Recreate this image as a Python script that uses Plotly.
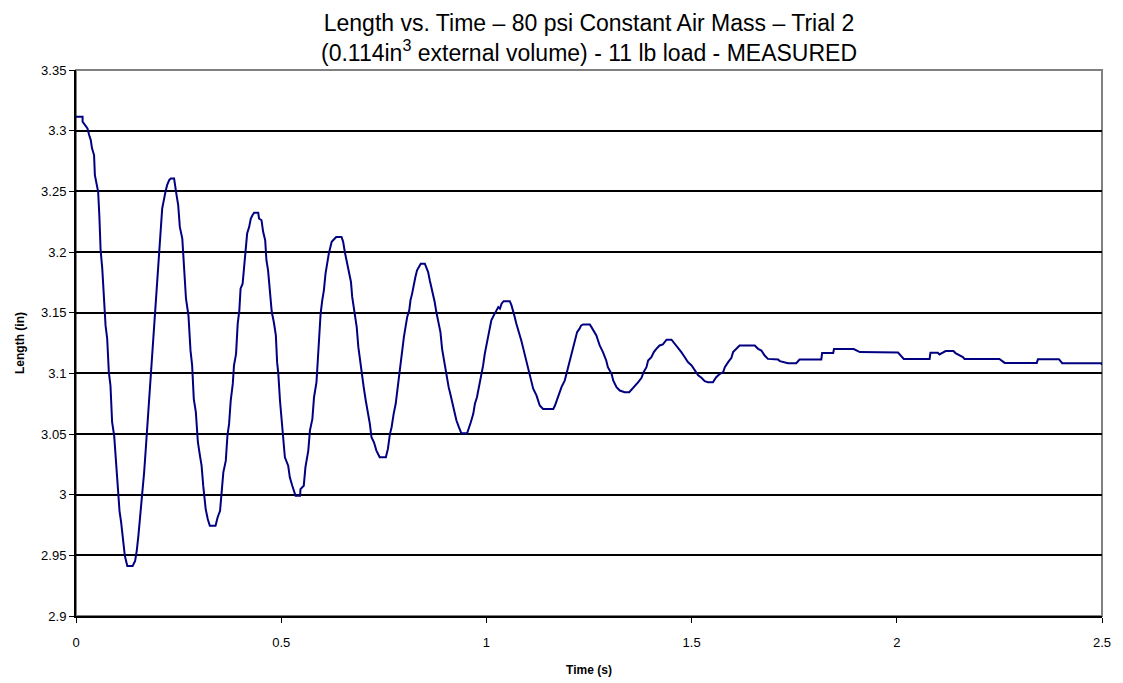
import plotly.graph_objects as go

# Time (s) and Length (in) readings
time_s = [
    0.000, 0.016, 0.016, 0.022, 0.028, 0.032, 0.036, 0.039, 0.044, 0.046, 0.050, 0.054, 0.057, 0.060,
    0.064, 0.068, 0.072, 0.076, 0.080, 0.084, 0.088, 0.093, 0.097, 0.101, 0.106, 0.110, 0.114, 0.119,
    0.125, 0.138, 0.144, 0.148, 0.152, 0.156, 0.162, 0.166, 0.170, 0.175, 0.178, 0.182, 0.186, 0.190,
    0.194, 0.198, 0.202, 0.206, 0.210, 0.218, 0.222, 0.227, 0.231, 0.239,
    0.241, 0.245, 0.249, 0.253, 0.259, 0.263, 0.268, 0.274, 0.279, 0.283, 0.287, 0.292, 0.297, 0.302,
    0.306, 0.310, 0.316, 0.321, 0.326, 0.340, 0.345, 0.351, 0.355, 0.359, 0.365, 0.369, 0.373, 0.377,
    0.382, 0.385, 0.390, 0.394, 0.398, 0.401, 0.406, 0.409, 0.413, 0.417, 0.422, 0.426, 0.430, 0.434,
    0.444, 0.446, 0.452, 0.456, 0.461, 0.464, 0.468, 0.473, 0.477, 0.482, 0.487, 0.490,
    0.493, 0.497, 0.503, 0.509, 0.517, 0.521, 0.527, 0.533, 0.535, 0.546, 0.547, 0.555, 0.559, 0.566,
    0.570, 0.576, 0.580, 0.586,
    0.592, 0.596, 0.600, 0.604, 0.608, 0.612, 0.616, 0.623, 0.628, 0.634, 0.647, 0.651, 0.655, 0.659,
    0.665, 0.670, 0.673, 0.677, 0.684, 0.688, 0.692, 0.696, 0.701, 0.706, 0.712, 0.716, 0.720, 0.726,
    0.732, 0.740, 0.755, 0.760, 0.765,
    0.769, 0.774, 0.779, 0.783, 0.787, 0.791, 0.795, 0.799, 0.803, 0.807, 0.812, 0.815, 0.819, 0.823,
    0.827, 0.831, 0.836, 0.840, 0.850, 0.854, 0.858, 0.862, 0.866, 0.870, 0.874, 0.878, 0.884, 0.888,
    0.892, 0.896, 0.900, 0.904, 0.908, 0.912, 0.917, 0.921, 0.927, 0.933, 0.939, 0.953, 0.957, 0.962,
    0.968, 0.972, 0.977, 0.982, 0.986, 0.992, 0.996, 1.000, 1.004, 1.008, 1.012, 1.018, 1.023, 1.029,
    1.033, 1.037, 1.042, 1.057, 1.061, 1.065, 1.069, 1.073, 1.077, 1.081, 1.085, 1.089, 1.093, 1.098,
    1.102, 1.106, 1.110, 1.114, 1.122, 1.126, 1.130, 1.138, 1.163, 1.167, 1.171, 1.177, 1.183, 1.191,
    1.195, 1.199, 1.205, 1.210, 1.215, 1.221, 1.227, 1.231, 1.236, 1.252, 1.256, 1.260, 1.268, 1.272,
    1.276, 1.284, 1.292, 1.296, 1.305, 1.309, 1.317, 1.325, 1.337, 1.348, 1.353, 1.361, 1.370, 1.378,
    1.383, 1.390, 1.394, 1.402, 1.408, 1.414, 1.422, 1.430, 1.439, 1.451, 1.459, 1.467, 1.475, 1.483,
    1.491, 1.500, 1.508, 1.516, 1.524, 1.532, 1.540, 1.552,
    1.560, 1.569, 1.577, 1.581, 1.589, 1.597, 1.601, 1.609, 1.617, 1.654, 1.662, 1.670, 1.678, 1.686,
    1.711, 1.715, 1.735, 1.755, 1.763, 1.816, 1.818, 1.845, 1.847, 1.895, 1.910, 2.003, 2.017, 2.080,
    2.082, 2.100, 2.104, 2.119, 2.138, 2.143, 2.161, 2.165, 2.250, 2.263, 2.341, 2.344, 2.395, 2.403,
    2.498, 2.500,
]
length_in = [
    3.3115, 3.3115, 3.3074, 3.3047, 3.3019, 3.2964, 3.2923, 3.2854, 3.2799, 3.2634, 3.2551, 3.2496, 3.2290, 3.2014,
    3.1863, 3.1560, 3.1395, 3.1285, 3.1010, 3.0900, 3.0597, 3.0487, 3.0267, 3.0101, 2.9867, 2.9771, 2.9620, 2.9496,
    2.9413, 2.9413, 2.9454, 2.9537, 2.9661, 2.9799, 3.0046, 3.0184, 3.0376, 3.0624, 3.0817, 3.1037, 3.1202, 3.1423,
    3.1643, 3.1808, 3.2001, 3.2166, 3.2358, 3.2496, 3.2551, 3.2592, 3.2606, 3.2606,
    3.2551, 3.2469, 3.2386, 3.2207, 3.2111, 3.1877, 3.1615, 3.1478, 3.1189, 3.1065, 3.0790, 3.0680, 3.0432, 3.0322,
    3.0239, 3.0074, 2.9881, 2.9799, 2.9744, 2.9744, 2.9812, 2.9867, 3.0019, 3.0184, 3.0280, 3.0487, 3.0583, 3.0776,
    3.0913, 3.1065, 3.1161, 3.1409, 3.1519, 3.1698, 3.1739, 3.1849, 3.2015, 3.2152, 3.2207, 3.2276, 3.2303, 3.2323,
    3.2323, 3.2276, 3.2262, 3.2166, 3.2097, 3.1932, 3.1849, 3.1643, 3.1505, 3.1423, 3.1313, 3.1092,
    3.0996, 3.0776, 3.0501, 3.0308, 3.0239, 3.0143, 3.0074, 3.0005, 2.9991, 2.9991, 3.0046, 3.0074, 3.0225, 3.0363,
    3.0528, 3.0625, 3.0803, 3.0927,
    3.1340, 3.1491, 3.1602, 3.1684, 3.1822, 3.1918, 3.1987, 3.2084, 3.2103, 3.2124, 3.2124, 3.2084, 3.2000, 3.1932,
    3.1835, 3.1753, 3.1630, 3.1547, 3.1381, 3.1216, 3.1106, 3.0996, 3.0886, 3.0776, 3.0666, 3.0583, 3.0473, 3.0432,
    3.0363, 3.0308, 3.0308, 3.0377, 3.0501,
    3.0556, 3.0666, 3.0749, 3.0859, 3.0983, 3.1079, 3.1216, 3.1301, 3.1383, 3.1464, 3.1519, 3.1602, 3.1657, 3.1739,
    3.1794, 3.1849, 3.1882, 3.1904, 3.1904, 3.1876, 3.1835, 3.1767, 3.1712, 3.1657, 3.1588, 3.1505, 3.1409, 3.1340,
    3.1202, 3.1120, 3.1065, 3.0983, 3.0886, 3.0831, 3.0749, 3.0694, 3.0611, 3.0556, 3.0506, 3.0506, 3.0556, 3.0597,
    3.0666, 3.0749, 3.0803, 3.0886, 3.0983, 3.1065, 3.1161, 3.1230, 3.1312, 3.1383, 3.1436, 3.1478, 3.1513, 3.1546,
    3.1533, 3.1574, 3.1595, 3.1595, 3.1562, 3.1519, 3.1464, 3.1409, 3.1368, 3.1326, 3.1271, 3.1216, 3.1161, 3.1093,
    3.1038, 3.0983, 3.0942, 3.0873, 3.0818, 3.0776, 3.0735, 3.0707, 3.0707, 3.0735, 3.0776, 3.0818, 3.0886, 3.0942,
    3.0996, 3.1065, 3.1134, 3.1189, 3.1271, 3.1340, 3.1368, 3.1395, 3.1403, 3.1403, 3.1381, 3.1359, 3.1312, 3.1271,
    3.1230, 3.1175, 3.1106, 3.1051, 3.0996, 3.0942, 3.0886, 3.0858, 3.0844, 3.0844, 3.0863, 3.0886, 3.0927, 3.0963,
    3.1009, 3.1051, 3.1106, 3.1134, 3.1175, 3.1202, 3.1230, 3.1239, 3.1277, 3.1277, 3.1244, 3.1211, 3.1175, 3.1134,
    3.1093, 3.1065, 3.1023, 3.0983, 3.0963, 3.0935, 3.0927, 3.0927,
    3.0968, 3.0996, 3.1010, 3.1051, 3.1092, 3.1128, 3.1175, 3.1202, 3.1229, 3.1229, 3.1202, 3.1188, 3.1147, 3.1119,
    3.1114, 3.1100, 3.1084, 3.1084, 3.1114, 3.1114, 3.1167, 3.1167, 3.1200, 3.1200, 3.1175, 3.1172, 3.1119, 3.1119,
    3.1170, 3.1170, 3.1156, 3.1184, 3.1184, 3.1167, 3.1134, 3.1119, 3.1119, 3.1086, 3.1086, 3.1117, 3.1117, 3.1084,
    3.1084, 3.1070,
]

y_ticks = [2.9, 2.95, 3.0, 3.05, 3.1, 3.15, 3.2, 3.25, 3.3, 3.35]
y_tick_labels = ["2.9", "2.95", "3", "3.05", "3.1", "3.15", "3.2", "3.25", "3.3", "3.35"]
x_ticks = [0, 0.5, 1, 1.5, 2, 2.5]
x_tick_labels = ["0", "0.5", "1", "1.5", "2", "2.5"]

FONT = "Liberation Sans, Arial, sans-serif"

fig = go.Figure()
fig.add_trace(go.Scatter(
    x=time_s, y=length_in, mode="lines",
    line=dict(color="#000080", width=2),
    showlegend=False, hoverinfo="x+y",
))

fig.update_layout(
    width=1123, height=683,
    margin=dict(l=76, r=21, t=70, b=67),
    paper_bgcolor="white", plot_bgcolor="white",
    font=dict(family=FONT, color="black"),
    title=dict(
        text="Length vs. Time \u2013 80 psi Constant Air Mass \u2013 Trial 2<br>(0.114in<sup>3</sup> external volume) - 11 lb load - MEASURED",
        x=(76 + 1102) / 2 / 1123, xanchor="center",
        yref="container", y=1 - 31 / 683, yanchor="middle",
        font=dict(family=FONT, size=23, color="black"),
    ),
    shapes=[dict(type="rect", xref="paper", yref="paper", x0=0, x1=1, y0=0, y1=1,
                 line=dict(color="#808080", width=2), layer="below")],
)
fig.update_xaxes(
    range=[0, 2.5], tickvals=x_ticks, ticktext=x_tick_labels,
    showgrid=False, zeroline=False, automargin=False,
    showline=True, linecolor="black", linewidth=2,
    ticks="outside", ticklen=5, tickcolor="black", tickwidth=1,
    ticklabelstandoff=8,
    tickfont=dict(family=FONT, size=13, color="black"),
    title=dict(text="<b>Time (s)</b>", font=dict(family=FONT, size=12, color="black"), standoff=17),
)
fig.update_yaxes(
    range=[2.9, 3.35], tickvals=y_ticks, ticktext=y_tick_labels,
    showgrid=True, gridcolor="black", gridwidth=1.5, zeroline=False, automargin=False,
    showline=True, linecolor="black", linewidth=2,
    ticks="outside", ticklen=5, tickcolor="black", tickwidth=1,
    tickfont=dict(family=FONT, size=13, color="black"),
    title=dict(text="<b>Length (in)</b>", font=dict(family=FONT, size=12, color="black"), standoff=14),
)

fig.write_html("out.html", config={"displayModeBar": False},
               post_script="document.body.style.margin='0';")
